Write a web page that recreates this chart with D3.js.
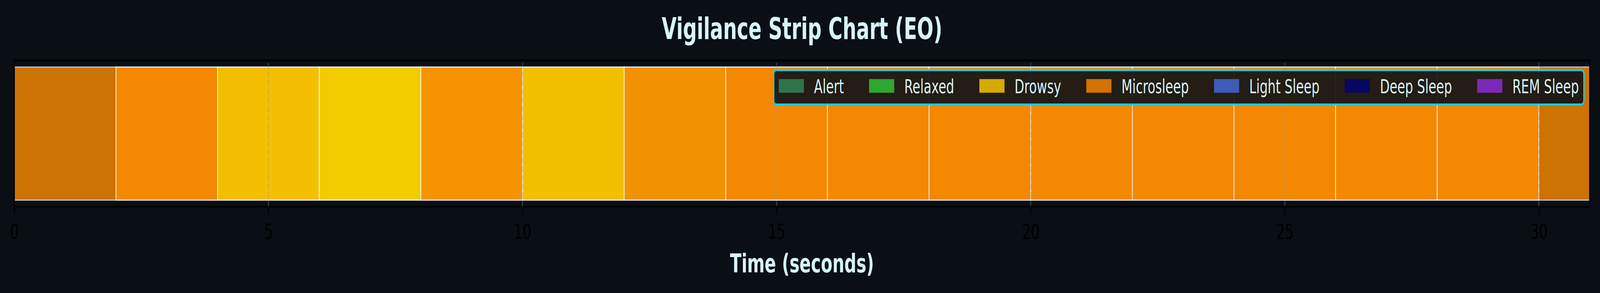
<!DOCTYPE html>
<html>
<head>
<meta charset="utf-8">
<script src="https://cdn.jsdelivr.net/npm/d3@7"></script>
<style>
html, body { margin: 0; background: #0a0e15; overflow: hidden; }
svg { display: block; }
</style>
</head>
<body>
<div id="chart"></div>
<script>
// epochs of the strip, in seconds
let segStart = [0, 2, 4, 6, 8, 10, 12, 14, 16, 18, 20, 22, 24, 26, 28, 30];
let segEnd = [2, 4, 6, 8, 10, 12, 14, 16, 18, 20, 22, 24, 26, 28, 30, 31];
let segColor = ["#f48800", "#f48800", "#f3bf00", "#f3cc00", "#f59400", "#f3c000", "#f39200", "#f48800",
    "#f48800", "#f48800", "#f48800", "#f48800", "#f48800", "#f48800", "#f48800", "#f48800"];
let segConfidence = [0.83, 1, 1, 1, 1, 1, 1, 1, 1, 1, 1, 1, 1, 1, 1, 0.83];

// legend
let stageNames = ["Alert", "Relaxed", "Drowsy", "Microsleep", "Light Sleep", "Deep Sleep", "REM Sleep"];
let stageColors = ["#2e744a", "#2ea82e", "#d4ac00", "#d47100", "#3f5bb8", "#07075f", "#7b28b8"];

let xTicks = [0, 5, 10, 15, 20, 25, 30];
let xMax = 31;

let w = 6360;
let h = 751;
let plotLeft = 57, plotRight = 6319, plotTop = 154.7, plotBottom = 530;
let textColor = "#d7f5fc";

// drawn in a 6360x751 box and stretched to the window
let viz = d3.select("#chart")
    .append("svg")
    .attr("viewBox", "0 0 " + w + " " + h)
    .attr("preserveAspectRatio", "none")
    .style("width", "100vw")
    .style("height", "100vh")
    .style("background", "#0a0e15");

let xScale = d3.scaleLinear().domain([0, xMax]).range([plotLeft, plotRight]);
// matplotlib style 5% margin around the 0..1 band
let yScale = d3.scaleLinear().domain([-0.05, 1.05]).range([plotBottom, plotTop]);

viz.append("defs").append("clipPath")
    .attr("id", "plotclip")
    .append("rect")
    .attr("x", plotLeft).attr("y", plotTop)
    .attr("width", plotRight - plotLeft).attr("height", plotBottom - plotTop);

let data = segStart.map(function (s, i) {
    return { start: s, end: segEnd[i], color: segColor[i], conf: segConfidence[i] };
});

let plot = viz.append("g").attr("clip-path", "url(#plotclip)");

plot.selectAll("rect.seg")
    .data(data)
    .enter()
    .append("rect")
    .classed("seg", true)
    .attr("x", function (d) { return xScale(d.start); })
    .attr("y", yScale(1))
    .attr("width", function (d) { return xScale(d.end) - xScale(d.start); })
    .attr("height", yScale(0) - yScale(1))
    .attr("fill", function (d) { return d.color; })
    .attr("stroke", "#ffffff")
    .attr("stroke-width", 2.5)
    .attr("opacity", function (d) { return d.conf; });

// dashed vertical grid, drawn over the strip
plot.selectAll("line.grid")
    .data(xTicks)
    .enter()
    .append("line")
    .classed("grid", true)
    .attr("x1", function (d) { return xScale(d); })
    .attr("x2", function (d) { return xScale(d); })
    .attr("y1", plotBottom)
    .attr("y2", plotTop)
    .attr("stroke", "#8b949e")
    .attr("stroke-opacity", 0.35)
    .attr("stroke-width", 4)
    .attr("stroke-dasharray", "15.4,6.7");

// frame
viz.append("rect")
    .attr("x", plotLeft).attr("y", plotTop)
    .attr("width", plotRight - plotLeft).attr("height", plotBottom - plotTop)
    .attr("fill", "none")
    .attr("stroke", "#000000")
    .attr("stroke-width", 4);

// x axis
let xAxis = d3.axisBottom(xScale)
    .tickValues(xTicks)
    .tickFormat(d3.format("d"))
    .tickSize(19)
    .tickPadding(14);
let xAxisGroup = viz.append("g")
    .attr("transform", "translate(0," + plotBottom + ")")
    .call(xAxis);
xAxisGroup.select(".domain").remove();
xAxisGroup.selectAll("line")
    .attr("stroke", "#000000")
    .attr("stroke-width", 4);
xAxisGroup.selectAll("text")
    .attr("fill", "#000000")
    .attr("font-family", "DejaVu Sans")
    .attr("font-size", 54)
    .attr("dy", null)
    .attr("y", 82);

viz.append("text")
    .attr("x", (plotLeft + plotRight) / 2)
    .attr("y", 698)
    .attr("text-anchor", "middle")
    .attr("font-family", "DejaVu Sans")
    .attr("font-weight", "bold")
    .attr("font-size", 66.7)
    .attr("fill", textColor)
    .text("Time (seconds)");

viz.append("text")
    .attr("x", (plotLeft + plotRight) / 2)
    .attr("y", 100)
    .attr("text-anchor", "middle")
    .attr("font-family", "DejaVu Sans")
    .attr("font-weight", "bold")
    .attr("font-size", 77)
    .attr("fill", textColor)
    .text("Vigilance Strip Chart (EO)");

// legend, upper right, one row
let fs = 50;
let legend = viz.append("g");
let legendBox = legend.append("rect");
let items = legend.selectAll("g")
    .data(stageNames)
    .enter()
    .append("g");
items.append("rect")
    .attr("width", 2 * fs)
    .attr("height", 0.7 * fs)
    .attr("fill", function (d, i) { return stageColors[i]; });
items.append("text")
    .attr("x", 2.8 * fs)
    .attr("y", 36)
    .attr("font-family", "DejaVu Sans")
    .attr("font-size", fs)
    .attr("fill", textColor)
    .text(function (d) { return d; });

let widths = [];
items.select("text").each(function () { widths.push(this.getComputedTextLength()); });
let total = 0;
let offsets = [];
widths.forEach(function (tw, i) {
    offsets.push(total);
    total += 2.8 * fs + tw + (i < widths.length - 1 ? 2 * fs : 0);
});
let pad = 0.4 * fs;
let boxW = total + 2 * pad;
let boxH = 88;
let boxX = plotRight - 0.5 * fs - boxW + 2;
let boxY = plotTop + 0.5 * fs;
legendBox
    .attr("x", boxX).attr("y", boxY)
    .attr("width", boxW).attr("height", boxH)
    .attr("rx", 10).attr("ry", 10)
    .attr("fill", "#0d1117")
    .attr("fill-opacity", 0.9)
    .attr("stroke", "#0fd3e0")
    .attr("stroke-width", 5);
items.attr("transform", function (d, i) {
    return "translate(" + (boxX + pad + offsets[i]) + "," + (boxY + 23) + ")";
});
</script>
</body>
</html>
